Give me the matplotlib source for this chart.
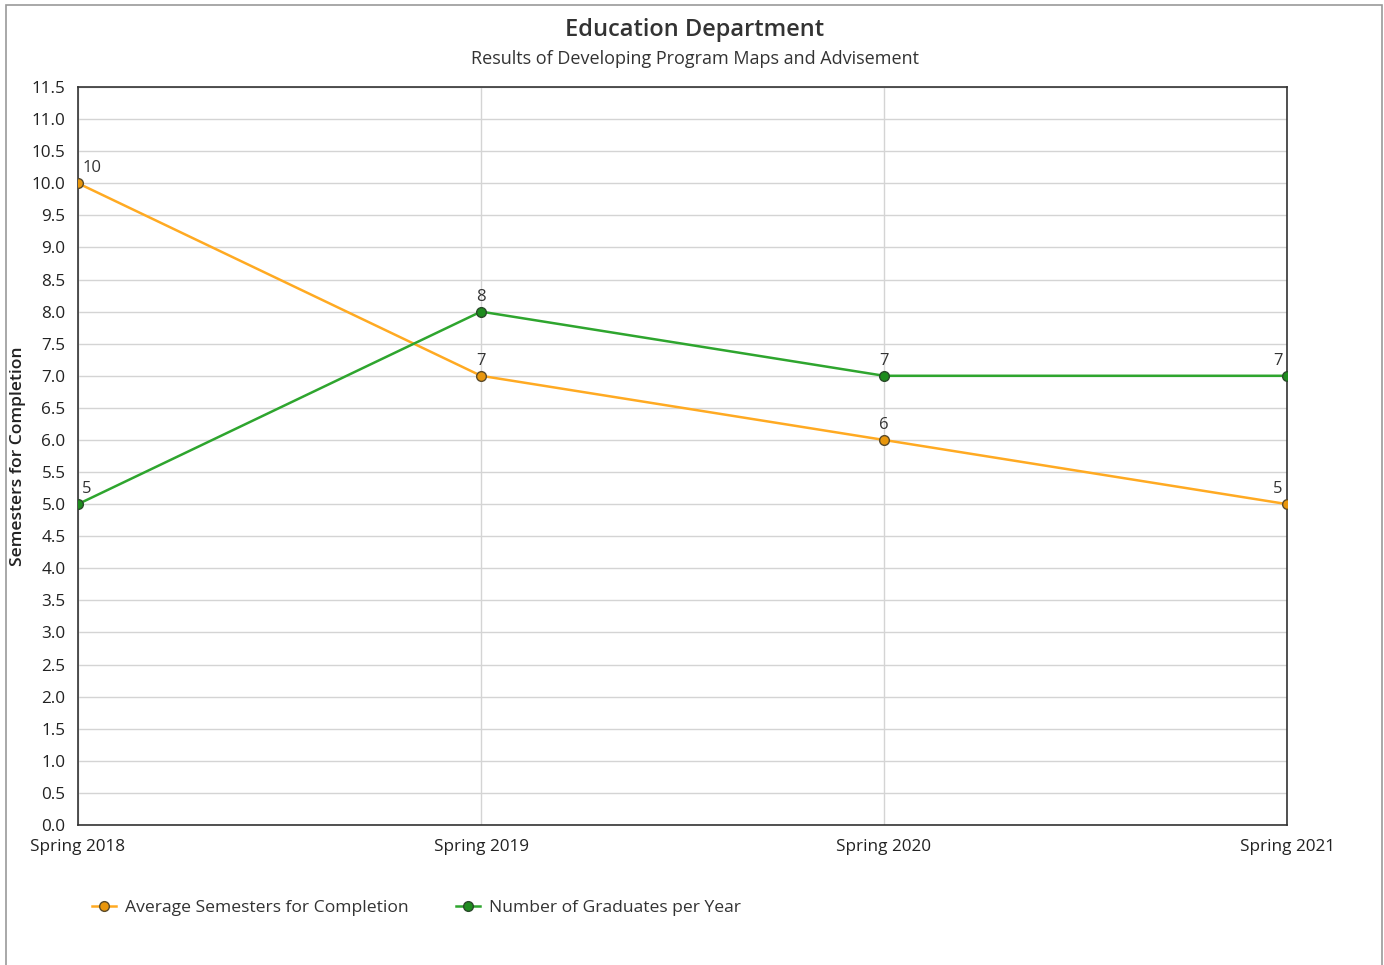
import matplotlib.pyplot as plt
from matplotlib.patches import Rectangle

plt.rcParams['font.family'] = ['Open Sans', 'DejaVu Sans']

# chart data
terms = ['Spring 2018', 'Spring 2019', 'Spring 2020', 'Spring 2021']
avg_semesters = [10, 7, 6, 5]
graduates = [5, 8, 7, 7]
y_ticks = [i * 0.5 for i in range(24)]

orange = '#FFAA22'
orange_dot = '#E8960C'
green = '#2EA52E'
green_dot = '#1E8C1E'

fig = plt.figure(figsize=(13.84, 9.65), dpi=100)
ax = fig.add_axes([78 / 1384, 1 - 825 / 965, (1287 - 78) / 1384, (825 - 87) / 965])

x = list(range(len(terms)))
ax.plot(x, avg_semesters, color=orange, lw=1.8, marker='o', ms=7,
        mfc=orange_dot, mec='#5a4a2a', mew=1, label='Average Semesters for Completion', zorder=3)
ax.plot(x, graduates, color=green, lw=1.8, marker='o', ms=7,
        mfc=green_dot, mec='#2a4a2a', mew=1, label='Number of Graduates per Year', zorder=3)

# point labels
for series in (avg_semesters, graduates):
    for i, v in enumerate(series):
        if i == 0:
            dx, ha = 3, 'left'
        elif i == len(series) - 1:
            dx, ha = -3, 'right'
        else:
            dx, ha = 0, 'center'
        ax.annotate(str(v), (i, v), xytext=(dx, 5), textcoords='offset points',
                    ha=ha, va='bottom', fontsize=12, color='#333333', zorder=4)

ax.set_xlim(0, len(terms) - 1)
ax.set_ylim(0, 11.5)
ax.set_xticks(x)
ax.set_xticklabels(terms)
ax.set_yticks(y_ticks)
ax.set_yticklabels(['{:.1f}'.format(t) for t in y_ticks])
ax.tick_params(length=0, labelsize=12.3, colors='#222222')
ax.tick_params(axis='y', pad=9)
ax.tick_params(axis='x', pad=10)
ax.grid(True, color='#d4d4d4', lw=1)
ax.set_axisbelow(True)
for s in ax.spines.values():
    s.set_color('#333333')
    s.set_linewidth(1.2)

ax.set_ylabel('Semesters for Completion', fontsize=12.6, fontweight='semibold',
              color='#222222', labelpad=4)

fig.text(695 / 1384, 1 - 30 / 965, 'Education Department', ha='center', va='center',
         fontsize=17, fontweight='semibold', color='#333333')
fig.text(695 / 1384, 1 - 59 / 965, 'Results of Developing Program Maps and Advisement',
         ha='center', va='center', fontsize=13, color='#333333')

fig.legend(loc='center left', bbox_to_anchor=(76 / 1384, 1 - 908 / 965), ncol=2,
           frameon=False, fontsize=12.6, handlelength=1.4, columnspacing=2.7,
           handletextpad=0.5, labelcolor='#333333')

# outer frame
fig.patches.append(Rectangle((6 / 1384, -0.01), (1382 - 6) / 1384, 1 - 5 / 965 + 0.01,
                             transform=fig.transFigure, fill=False, ec='#999999', lw=1.2))

fig.savefig('out.png', dpi=100)
